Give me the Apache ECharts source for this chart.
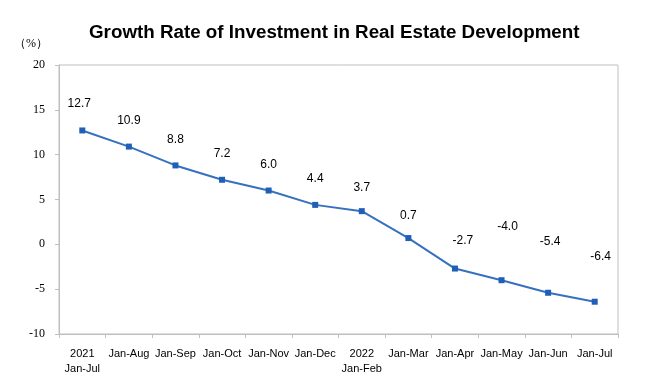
<!DOCTYPE html>
<html><head><meta charset="utf-8">
<script src="https://cdn.jsdelivr.net/npm/echarts@6/dist/echarts.min.js"></script>
<style>html,body{margin:0;padding:0;background:#fff}#c{width:647px;height:390px}</style>
</head><body><div id="c"></div>
<script>
var categories = ['2021\nJan-Jul','Jan-Aug','Jan-Sep','Jan-Oct','Jan-Nov','Jan-Dec','2022\nJan-Feb','Jan-Mar','Jan-Apr','Jan-May','Jan-Jun','Jan-Jul'];
var values = [12.7, 10.9, 8.8, 7.2, 6.0, 4.4, 3.7, 0.7, -2.7, -4.0, -5.4, -6.4];
var yTicks = [-10, -5, 0, 5, 10, 15, 20];
var labelOffsets = [[-3,-18],[0,-17],[0,-17],[0,-17],[0,-17],[0,-17],[0,-14],[0,-13],[8,-19],[6,-45],[2,-42],[6,-36]];

var chart = echarts.init(document.getElementById('c'));
var data = values.map(function(v,i){
  return {value: v, label: {offset: labelOffsets[i]}};
});
chart.setOption({
  animation: false,
  title: {text: 'Growth Rate of Investment in Real Estate Development', left: 84, top: 18,
    textStyle: {fontFamily: 'Liberation Sans', fontWeight: 'bold', fontSize: 18.8, color: '#000'}},
  graphic: [{type: 'text', left: 14, top: 38, style: {text: '（%）', fill: '#000', font: '12px "Liberation Serif"'}}],
  grid: {left: 59, right: 29, top: 65, bottom: 56, show: true, borderColor: '#bfbfbf', borderWidth: 1},
  xAxis: {type: 'category', data: categories, boundaryGap: true,
    axisLine: {onZero: false, lineStyle: {color: '#bfbfbf'}},
    axisTick: {show: true, length: 4, lineStyle: {color: '#bfbfbf'}},
    axisLabel: {interval: 0, color: '#000', fontFamily: 'Liberation Sans', fontSize: 11, margin: 12, lineHeight: 15}},
  yAxis: {type: 'value', min: yTicks[0], max: yTicks[yTicks.length-1], interval: 5,
    splitLine: {show: false},
    axisLine: {show: true, lineStyle: {color: '#bfbfbf'}},
    axisTick: {show: true, length: 4, inside: false, lineStyle: {color: '#bfbfbf'}},
    axisLabel: {color: '#000', fontFamily: 'Liberation Serif', fontSize: 12, margin: 14}},
  series: [{type: 'line', data: data, symbol: 'rect', symbolSize: 6,
    lineStyle: {color: '#3571be', width: 2},
    itemStyle: {color: '#1f5fb8'},
    label: {show: true, position: 'top', distance: 0, color: '#000', fontFamily: 'Liberation Sans', fontSize: 12,
      formatter: function(p){ return p.value.toFixed(1); }}
  }]
});
</script></body></html>
